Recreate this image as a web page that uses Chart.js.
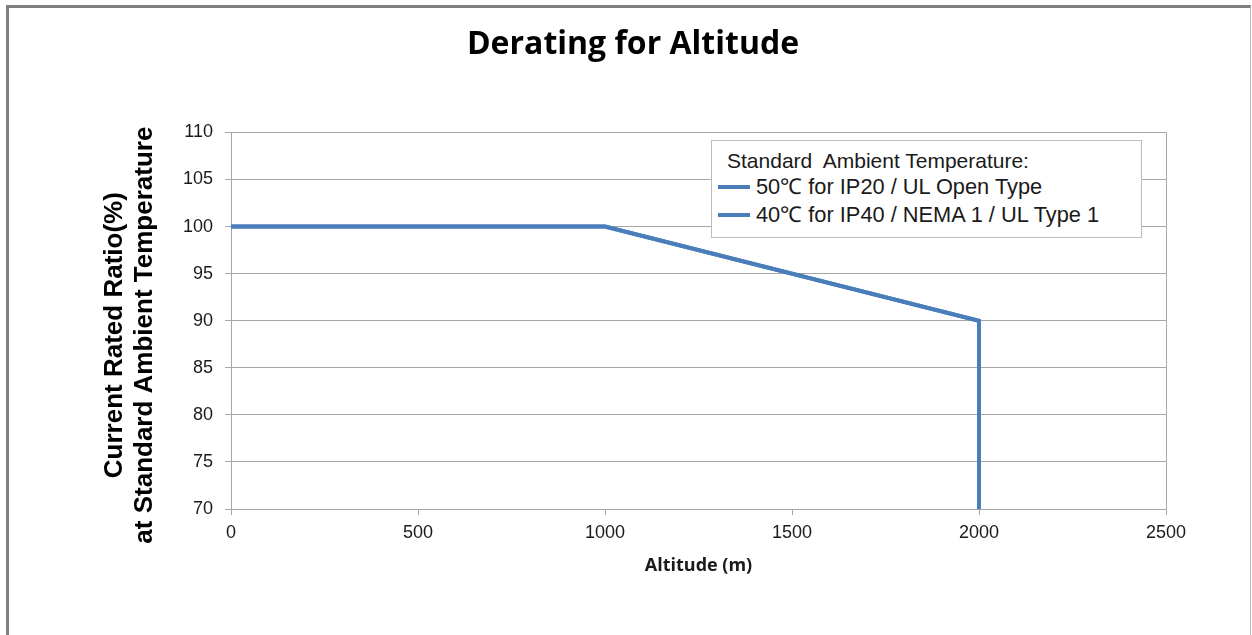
<!DOCTYPE html>
<html>
<head>
<meta charset="utf-8">
<script src="https://cdn.jsdelivr.net/npm/chart.js@4.4.1/dist/chart.umd.min.js"></script>
<style>
  html, body { margin: 0; padding: 0; background: #fff; overflow: hidden; }
  #frame {
    position: absolute; left: 6px; top: 5px; width: 1241px; height: 640px;
    border-top: 3px solid #808080; border-left: 3px solid #808080; border-right: 1px solid #b8b8b8;
  }
  #derating-chart { position: absolute; left: 0; top: 0; }
  #legend-box {
    position: absolute; left: 711px; top: 140px; width: 429px; height: 96px;
    border: 1px solid #bdbdbd; background: #fff;
    font-family: "Liberation Sans", Arial, sans-serif; color: #1a1a1a;
  }
  #legend-box .legend-title { position: absolute; left: 15px; top: 8px; white-space: pre; line-height: 24px; font-size: 21px; }
  #legend-box .legend-row { position: absolute; left: 6px; white-space: pre; line-height: 24px; font-size: 21.8px; }
  #legend-box .swatch { display: inline-block; width: 32px; height: 4px; vertical-align: middle; margin-right: 6px; position: relative; top: -1px; }
</style>
</head>
<body>
<div id="frame"></div>
<canvas id="derating-chart" width="1252" height="635"></canvas>
<div id="legend-box"></div>
<script>
  const DOM = id => document.getElementById(id);

  // --- chart data ---
  const altitudeM = [0, 1000, 2000, 2000];
  const ratioPct = [100, 100, 90, 70];
  const seriesLabels = ['50℃ for IP20 / UL Open Type', '40℃ for IP40 / NEMA 1 / UL Type 1'];
  const legendTitle = 'Standard  Ambient Temperature:';
  const xTicks = [0, 500, 1000, 1500, 2000, 2500];
  const yTicks = [70, 75, 80, 85, 90, 95, 100, 105, 110];

  const lineBlue = '#4a7ebb';
  const gridGray = '#a6a6a6';

  const points = altitudeM.map((x, i) => ({ x: x, y: ratioPct[i] }));

  function renderLegend(datasets) {
    const box = DOM('legend-box');
    box.innerHTML = `<div class="legend-title">${legendTitle}</div>` +
      datasets.map((d, i) =>
        `<div class="legend-row" style="top:${34 + i * 28}px;"><span class="swatch" style="background:${d.borderColor};"></span>${d.label}</div>`
      ).join('');
  }

  const datasets = seriesLabels.map(label => ({
    label: label,
    data: points,
    borderColor: lineBlue,
    borderWidth: 4,
    pointRadius: 0,
    tension: 0,
    fill: false
  }));

  new Chart(DOM('derating-chart').getContext('2d'), {
    type: 'line',
    data: { datasets: datasets },
    options: {
      responsive: false,
      animation: false,
      devicePixelRatio: 1,
      layout: { padding: { left: 100, right: 86, top: 0, bottom: 0 } },
      plugins: {
        legend: { display: false },
        tooltip: { enabled: false },
        title: {
          display: true,
          text: 'Derating for Altitude',
          color: '#000',
          font: { family: 'Open Sans', weight: 'bold', size: 32, lineHeight: 1.2 },
          padding: { top: 26, bottom: 68 }
        }
      },
      scales: {
        x: {
          type: 'linear',
          min: 0, max: 2500,
          afterFit: s => { s.height = 126; },
          afterBuildTicks: s => { s.ticks = xTicks.map(v => ({ value: v })); },
          ticks: {
            color: '#1a1a1a', padding: 7, maxRotation: 0,
            font: { family: 'Liberation Sans', size: 18 },
            callback: v => String(v)
          },
          grid: {
            color: c => c.tick && c.tick.value === 2500 ? gridGray : 'rgba(0,0,0,0)',
            tickColor: gridGray, tickLength: 6, lineWidth: 1
          },
          border: { display: true, color: gridGray, width: 1 },
          title: {
            display: true,
            text: 'Altitude (m)',
            color: '#1a1a1a',
            font: { family: 'Open Sans', weight: 'bold', size: 18, lineHeight: 1.2 },
            padding: { top: 0, bottom: 58 }
          }
        },
        y: {
          min: 70, max: 110,
          afterFit: s => { s.width = 131; },
          afterBuildTicks: s => { s.ticks = yTicks.map(v => ({ value: v })); },
          ticks: { color: '#1a1a1a', padding: 12, font: { family: 'Liberation Sans', size: 18 } },
          grid: { color: gridGray, tickColor: gridGray, tickLength: 6, lineWidth: 1 },
          border: { display: true, color: gridGray, width: 1 },
          title: {
            display: true,
            text: ['Current Rated Ratio(%)    ', 'at Standard Ambient Temperature    '],
            color: '#000',
            font: { family: 'Liberation Sans', weight: 'bold', size: 26, lineHeight: 1.154 },
            padding: { top: 0, bottom: 0 }
          }
        }
      }
    }
  });

  renderLegend(datasets);
</script>
</body>
</html>
